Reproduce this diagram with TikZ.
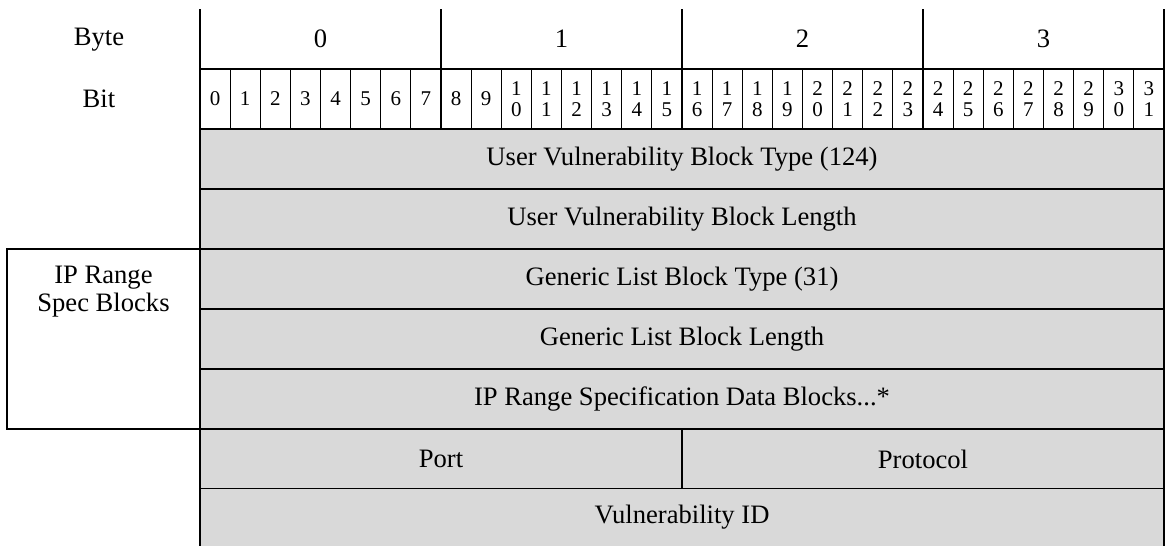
\documentclass[tikz,border=0pt]{standalone}
\usepackage{fontspec}
\setmainfont{Liberation Serif}
\usepackage{tikz}
\usetikzlibrary{positioning}
\definecolor{fieldgray}{RGB}{217,217,217}

\begin{document}
\begin{tikzpicture}[
    x=0.5pt, y=-0.5pt,
    cell/.style={inner sep=0pt, outer sep=0pt, anchor=north west, font=\fontsize{13.3}{14}\selectfont},
    bytecell/.style={cell, minimum width=120.5pt, minimum height=30pt},
    bitcell/.style={cell, draw, line width=0.5pt, minimum width=15.0625pt, minimum height=30pt, align=center, font=\fontsize{10.5}{10.5}\selectfont},
    field/.style={cell, fill=fieldgray, draw, line width=1pt, minimum width=482pt, minimum height=30pt},
    halffield/.style={field, minimum width=241pt},
    lbl/.style={font=\fontsize{13.3}{14}\selectfont, align=center},
    rule/.style={line width=1pt}
]
\useasboundingbox (0,0) rectangle (1169,546);

% header labels
\node[lbl] (bytehdr) at (99,40) {Byte};
\node[lbl] (bithdr) at (99,99) {Bit};

% byte row
\foreach \b in {0,...,3}
  \node[bytecell] (byte\b) at (200+241*\b,9) {\b};

% bit row
\foreach \i in {0,...,31}{
  \pgfmathtruncatemacro\hi{int(\i/10)}
  \pgfmathtruncatemacro\lo{\i-10*\hi}
  \ifnum\i<10 \edef\bitlabel{\i}\else\edef\bitlabel{\hi\noexpand\\\lo}\fi
  \node[bitcell] (bit\i) at (200+30.125*\i,69) {\bitlabel};
}

% fields
\node[field] (vbtype) at (200,129) {User Vulnerability Block Type (124)};
\node[field] (vblen) at (200,189) {User Vulnerability Block Length};
\node[field] (gltype) at (200,249) {Generic List Block Type (31)};
\node[field] (gllen) at (200,309) {Generic List Block Length};
\node[field] (ipdata) at (200,369) {IP Range Specification Data Blocks...*};
\node[halffield] (port) at (200,429) {Port};
\node[halffield] (proto) at (682,429) {Protocol};
\node[field, draw=none, minimum height=28.5pt] (vulnid) at (200,489) {Vulnerability ID};

% IP range spec bracket
\node[cell, draw, line width=1pt, minimum width=96.5pt, minimum height=90pt] (ipbox) at (7,249) {};
\node[lbl, below=5pt of ipbox.north] (iplbl) {IP Range\\Spec Blocks};

% rules
\foreach \b in {0,...,3}
  \draw[rule] (byte\b.north west) -- (byte\b.south west);
\draw[rule] (bit0.north west) -- (bit31.north east);
\draw[rule] (bit0.south west) -- (bit31.south east);
\foreach \k in {8,16,24}
  \draw[rule] (bit\k.north west) -- (bit\k.south west);
\draw[rule] (byte0.north west) -- (vulnid.south west);
\draw[rule] (byte3.north east) -- (vulnid.south east);
\end{tikzpicture}
\end{document}
